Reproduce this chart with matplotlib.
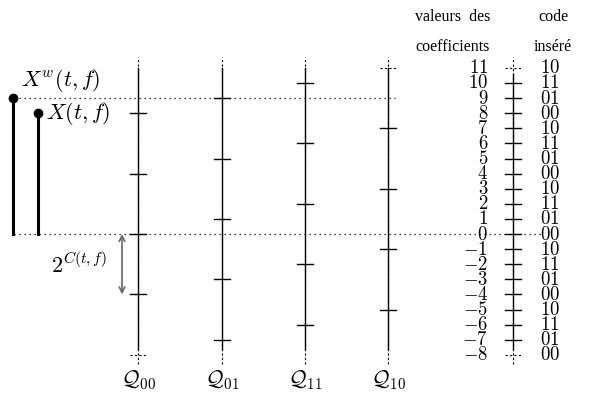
import matplotlib

matplotlib.use("Agg")

import matplotlib.pyplot as plt

plt.rcParams["mathtext.fontset"] = "cm"

# coefficient values shown on the right scale and their inserted code
values = list(range(11, -9, -1))
codes = ["10", "11", "01", "00", "10", "11", "01", "00", "10", "11", "01",
         "00", "10", "11", "01", "00", "10", "11", "01", "00"]

# quantizers: name and the values that belong to it
quantizers = ["00", "01", "11", "10"]
quant_ticks = {
    "00": [8, 4, 0, -4, -8],
    "01": [9, 5, 1, -3, -7],
    "11": [10, 6, 2, -2, -6],
    "10": [11, 7, 3, -1, -5],
}
# values drawn with a dashed tick (ends of the range)
dashed_values = [11, -8]

xw_value = 9
x_value = 8
step_value = 4

# pixel layout
W, H = 594, 397
px_per_unit = 15.1
y_zero = 234
col_x = [138, 222, 305, 388]
scale_x = 513
half_tick = 8


def py(p):
    # pixel row from the top -> data value
    return (y_zero - p) / px_per_unit


fig = plt.figure(figsize=(W / 100, H / 100), dpi=100)
ax = fig.add_axes([0, 0, 1, 1])
ax.set_xlim(0, W)
ax.set_ylim(py(H), py(0))
ax.axis("off")

top, bottom = 11.7, -8.6


def draw_column(x, ticks, solid_lo, solid_hi):
    ax.plot([x, x], [bottom, top], color="black", lw=0.8, ls=(0, (2, 2)))
    ax.plot([x, x], [solid_lo, solid_hi], color="black", lw=1.0)
    for t in ticks:
        if t in dashed_values:
            ax.plot([x - half_tick, x + half_tick], [t, t], color="black", lw=0.8,
                    ls=(0, (2, 2)))
        else:
            ax.plot([x - half_tick, x + half_tick], [t, t], color="black", lw=1.0)


for x, q in zip(col_x, quantizers):
    draw_column(x, quant_ticks[q], -7.6, 11.0)
    ax.text(x, py(380), r"$\mathcal{Q}_{%s}$" % q,
            ha="center", va="center", fontsize=15.5)

draw_column(scale_x, values, -7.6, 10.6)
for v, c in zip(values, codes):
    ax.text(488, v, r"$%d$" % v, ha="right", va="center", fontsize=13.5)
    ax.text(540, v, r"$%s$" % c, ha="left", va="center", fontsize=13.5)

# horizontal dotted guides
ax.plot([14, 395], [xw_value, xw_value], color="black", lw=0.9, ls=(0, (1, 3)))
ax.plot([14, 543], [0, 0], color="black", lw=0.9, ls=(0, (1, 3)))

# stems for X^w and X
ax.plot([13, 13], [0, xw_value], color="black", lw=2.2)
ax.plot([13], [xw_value], "o", color="black", ms=6)
ax.plot([38, 38], [0, x_value], color="black", lw=2.2)
ax.plot([38], [x_value], "o", color="black", ms=6)
ax.text(21, xw_value + 0.3, r"$X^w(t,f)$", ha="left", va="bottom", fontsize=16)
ax.text(46, x_value, r"$X(t,f)$", ha="left", va="center", fontsize=16)

# quantization step arrow
ax.annotate("", xy=(122, -step_value), xytext=(122, 0),
            arrowprops={"arrowstyle": "<->", "color": "#666666", "lw": 1.2,
                        "shrinkA": 0, "shrinkB": 0})
ax.text(79, -step_value / 2, r"$2^{C(t,f)}$", ha="center", va="center", fontsize=16)

# headers
ax.text(453, py(17), "valeurs  des", ha="center", va="center",
        fontsize=11.5, family="Liberation Serif")
ax.text(453, py(47), "coefficients", ha="center", va="center",
        fontsize=11.5, family="Liberation Serif")
ax.text(553, py(17), "code", ha="center", va="center",
        fontsize=11.5, family="Liberation Serif")
ax.text(553, py(47), "inséré", ha="center", va="center",
        fontsize=11.5, family="Liberation Serif")

fig.savefig("out.png", dpi=100)
